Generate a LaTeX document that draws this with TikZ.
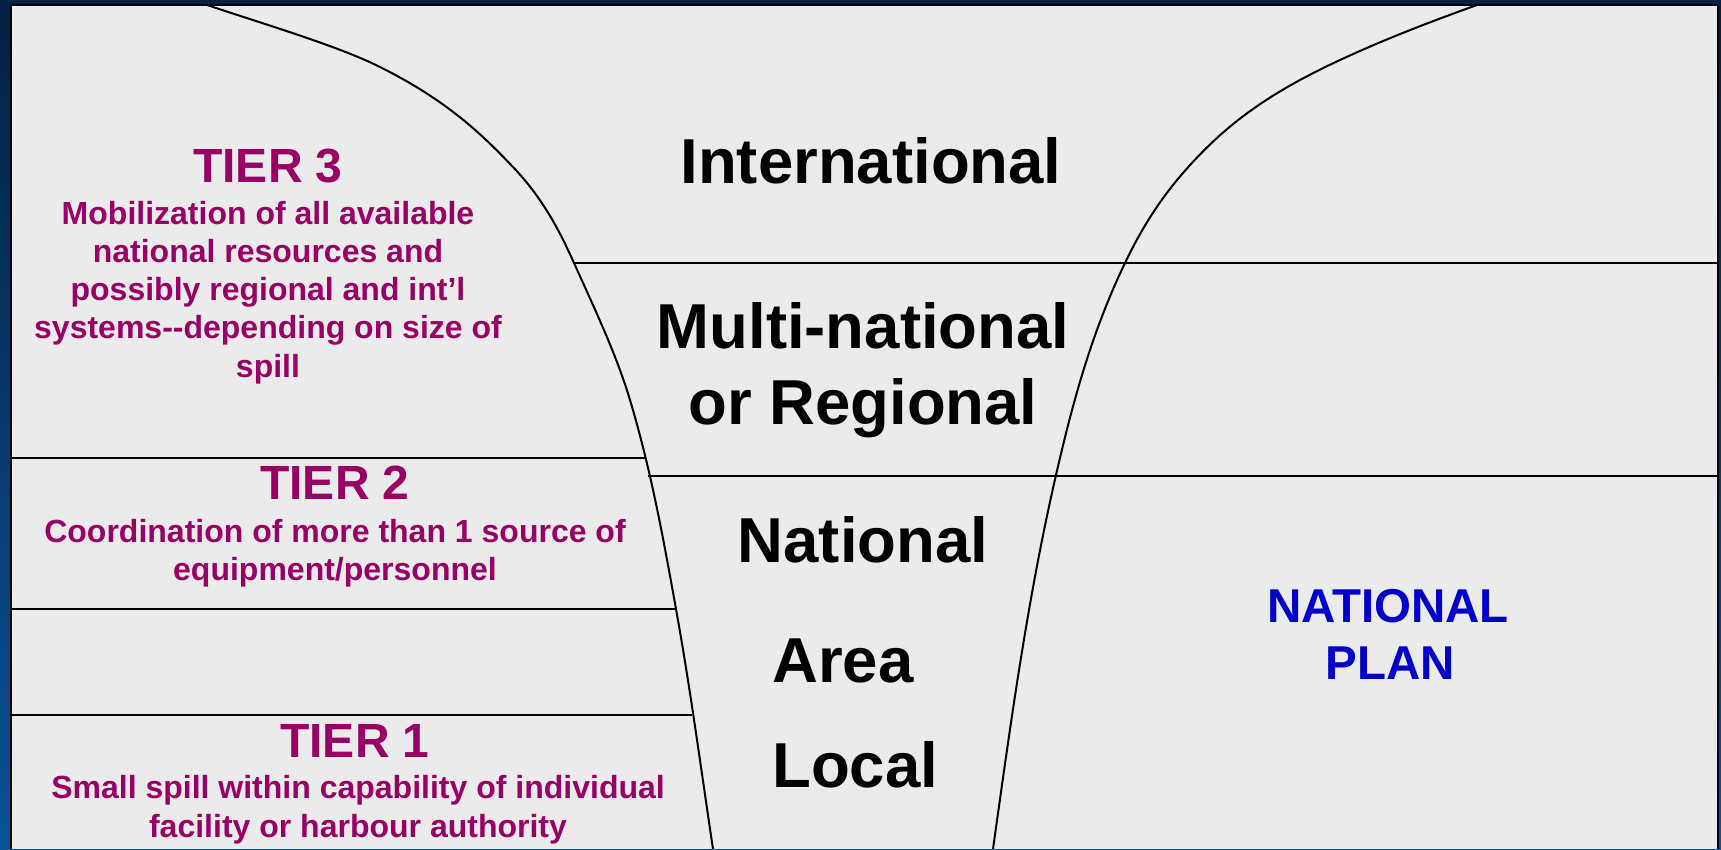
\documentclass[tikz,border=0pt]{standalone}
\usepackage{fontspec}
\setmainfont{Liberation Sans}
\definecolor{tier}{RGB}{153,0,102}
\definecolor{planblue}{RGB}{0,0,204}
\definecolor{panel}{RGB}{235,235,235}
\definecolor{navy}{RGB}{3,33,66}
\definecolor{deepblue}{RGB}{10,82,152}
\begin{document}
\begin{tikzpicture}[x=1pt,y=-1pt,
  lbl/.style={font=\fontsize{63.5}{76}\selectfont\bfseries, inner sep=0pt, anchor=base},
  tierhead/.style={font=\fontsize{48}{57}\selectfont\bfseries, text=tier, inner sep=0pt, anchor=base},
  tierbody/.style={font=\fontsize{32}{38.4}\selectfont\bfseries, text=tier, inner sep=0pt, anchor=base},
  plan/.style={font=\fontsize{47.5}{57}\selectfont\bfseries, text=planblue, inner sep=0pt, anchor=base},
  sepline/.style={line width=2pt, black},
  funnel/.style={line width=2pt, black, line join=round}]
\useasboundingbox (0,0) rectangle (1721,849);
% background
\shade[top color=navy, bottom color=deepblue] (0,0) rectangle (1721,849);
\fill[navy] (0,0) rectangle (1721,6);
% panel
\fill[panel] (11,5) rectangle (1718,849);
\draw[line width=2.5pt, black] (11,849) -- (11,5) -- (1718,5) -- (1718,849);
% funnel curves
\draw[funnel] (207,5)
  .. controls (269,25.7) and (338.7,46.3) .. (380,67)
  .. controls (446.7,100.3) and (481.3,133.7) .. (513,167)
  .. controls (543.4,199) and (559.6,231) .. (574,263)
  .. controls (594.6,308.7) and (616.3,354.3) .. (630,400)
  .. controls (650.9,469.7) and (663.5,539.3) .. (676,609)
  .. controls (690.4,689) and (701,769) .. (713,849);
\draw[funnel] (1477,5)
  .. controls (1407,30) and (1346.3,55) .. (1300,80)
  .. controls (1242.7,111) and (1210,142) .. (1183,173)
  .. controls (1156.9,203) and (1139.4,233) .. (1125,263)
  .. controls (1091,333.7) and (1072.3,404.3) .. (1056,475)
  .. controls (1027.3,599.7) and (1010.5,724.3) .. (993,849);
% horizontal lines
\draw[sepline] (573,263) -- (1718,263);
\draw[sepline] (648,475.5) -- (1718,475.5);
\draw[sepline] (11,458) -- (645,458);
\draw[sepline] (11,609) -- (676,609);
\draw[sepline] (11,715) -- (692,715);
% funnel labels
\node[lbl] (intl) at (871,183) {International};
\node[lbl] (multi1) at (863,348) {Multi-national};
\node[lbl] (multi2) at (863,424) {or Regional};
\node[lbl] (natl) at (863,562) {National};
\node[lbl, anchor=base west] (area) at (772,682) {Area};
\node[lbl, anchor=base west] (local) at (772,787) {Local};
% tier 3
\node[tierhead] (t3) at (268,182) {TIER 3};
\node[tierbody] (t3a) at (268,224) {Mobilization of all available};
\node[tierbody] (t3b) at (268,262) {national resources and};
\node[tierbody] (t3c) at (268,300) {possibly regional and int’l};
\node[tierbody] (t3d) at (268,338) {systems-{}-depending on size of};
\node[tierbody] (t3e) at (268,377) {spill};
% tier 2
\node[tierhead] (t2) at (335,499) {TIER 2};
\node[tierbody] (t2a) at (335,542) {Coordination of more than 1 source of};
\node[tierbody] (t2b) at (335,580) {equipment/personnel};
% tier 1
\node[tierhead] (t1) at (355,757) {TIER 1};
\node[tierbody] (t1a) at (358,798) {Small spill within capability of individual};
\node[tierbody] (t1b) at (358,837) {facility or harbour authority};
% national plan
\node[plan] (np1) at (1388,622) {NATIONAL};
\node[plan] (np2) at (1390,679) {PLAN};
\end{tikzpicture}
\end{document}
